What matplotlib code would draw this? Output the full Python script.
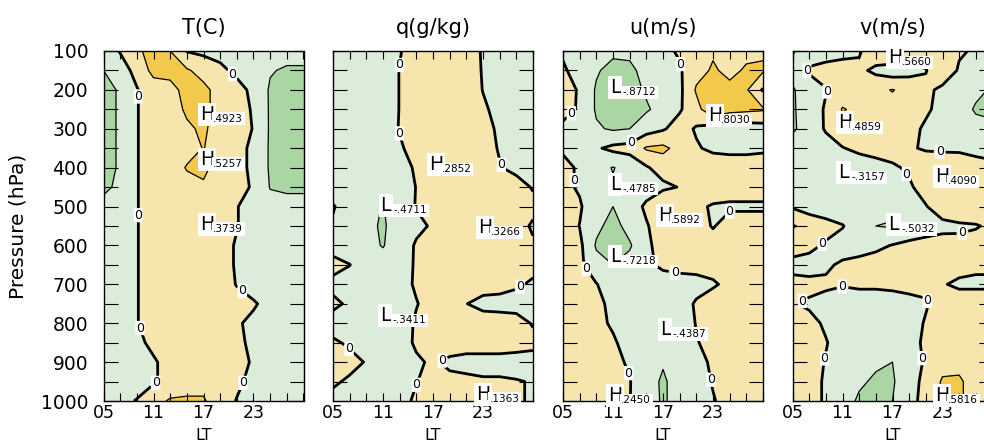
import numpy as np
import matplotlib.pyplot as plt

# сетка: местное время (LT) и давление (гПа)
lt = [5, 7, 9, 11, 13, 15, 17, 19, 21, 23, 25, 27, 29]
plev = [100, 150, 200, 250, 300, 350, 400, 450, 500, 550,
        600, 650, 700, 750, 800, 850, 900, 950, 1000]

t_vals = [
    [-0.2, 0.02, 0.4, 0.55, 0.45, -0.02, -0.1, -0.15, -0.1, -0.1, -0.2, -0.3, -0.3],
    [-0.45, -0.15, 0.1, 0.6, 0.55, 0.5, 0.3, 0.1, -0.1, -0.3, -0.42, -0.5, -0.5],
    [-0.6, -0.4, -0.02, 0.2, 0.35, 0.55, 0.55, 0.3, 0.15, -0.1, -0.5, -0.6, -0.6],
    [-0.6, -0.4, -0.02, 0.2, 0.3, 0.5, 0.55, 0.3, 0.2, -0.05, -0.5, -0.6, -0.6],
    [-0.6, -0.4, -0.02, 0.2, 0.3, 0.4, 0.5, 0.3, 0.2, -0.02, -0.5, -0.6, -0.6],
    [-0.6, -0.4, -0.02, 0.2, 0.3, 0.35, 0.46, 0.3, 0.15, -0.1, -0.5, -0.6, -0.6],
    [-0.6, -0.4, -0.02, 0.2, 0.3, 0.47, 0.53, 0.3, 0.15, -0.1, -0.5, -0.6, -0.6],
    [-0.55, -0.35, -0.02, 0.2, 0.3, 0.35, 0.4, 0.3, 0.15, -0.05, -0.47, -0.5, -0.5],
    [-0.3, -0.2, -0.02, 0.2, 0.3, 0.3, 0.35, 0.25, 0.02, -0.2, -0.3, -0.35, -0.35],
    [-0.3, -0.2, -0.02, 0.2, 0.3, 0.3, 0.37, 0.25, 0.02, -0.2, -0.3, -0.3, -0.3],
    [-0.3, -0.2, -0.02, 0.2, 0.3, 0.3, 0.3, 0.2, -0.05, -0.2, -0.3, -0.3, -0.3],
    [-0.3, -0.2, -0.02, 0.2, 0.3, 0.3, 0.3, 0.2, -0.05, -0.2, -0.3, -0.3, -0.3],
    [-0.3, -0.2, -0.02, 0.2, 0.3, 0.3, 0.3, 0.2, -0.02, -0.2, -0.3, -0.3, -0.3],
    [-0.3, -0.2, -0.02, 0.2, 0.3, 0.3, 0.3, 0.2, 0.15, 0.05, -0.15, -0.3, -0.3],
    [-0.3, -0.2, -0.02, 0.2, 0.3, 0.3, 0.3, 0.2, 0.05, -0.1, -0.2, -0.3, -0.3],
    [-0.3, -0.2, -0.1, 0.1, 0.25, 0.3, 0.3, 0.2, 0.1, -0.1, -0.2, -0.3, -0.3],
    [-0.3, -0.25, -0.15, -0.05, 0.15, 0.3, 0.3, 0.25, 0.15, -0.05, -0.2, -0.3, -0.3],
    [-0.3, -0.25, -0.15, -0.05, 0.15, 0.3, 0.3, 0.2, 0.08, -0.12, -0.2, -0.3, -0.3],
    [-0.3, -0.1, 0.02, 0.3, 0.5, 0.5, 0.5, 0.2, -0.02, -0.2, -0.3, -0.3, -0.3],
]

q_vals = [
    [-0.25, -0.25, -0.25, -0.2, -0.02, 0.15, 0.2, 0.2, 0.15, -0.03, -0.15, -0.2, -0.2],
    [-0.25, -0.25, -0.25, -0.2, 0.01, 0.15, 0.2, 0.2, 0.15, -0.02, -0.15, -0.2, -0.2],
    [-0.25, -0.25, -0.25, -0.2, 0.01, 0.15, 0.2, 0.25, 0.2, -0.01, -0.15, -0.2, -0.2],
    [-0.25, -0.25, -0.25, -0.2, 0.01, 0.2, 0.25, 0.25, 0.2, 0.05, -0.1, -0.2, -0.2],
    [-0.25, -0.25, -0.25, -0.2, 0.02, 0.2, 0.25, 0.25, 0.2, 0.1, -0.05, -0.2, -0.2],
    [-0.25, -0.25, -0.25, -0.2, -0.05, 0.15, 0.25, 0.28, 0.25, 0.15, -0.03, -0.15, -0.2],
    [-0.25, -0.25, -0.3, -0.3, -0.15, 0.05, 0.28, 0.28, 0.25, 0.2, 0.02, -0.1, -0.15],
    [-0.2, -0.25, -0.3, -0.35, -0.2, 0.01, 0.25, 0.28, 0.3, 0.3, 0.25, 0.15, -0.03],
    [0.03, -0.2, -0.3, -0.47, -0.2, 0.02, 0.2, 0.28, 0.3, 0.3, 0.3, 0.2, 0.1],
    [-0.05, -0.2, -0.35, -0.5, -0.25, -0.1, 0.05, 0.25, 0.3, 0.33, 0.25, 0.15, -0.05],
    [-0.15, -0.25, -0.35, -0.47, -0.25, 0.05, 0.2, 0.25, 0.3, 0.3, 0.25, 0.15, 0.05],
    [0.12, 0.01, -0.25, -0.3, -0.2, 0.05, 0.2, 0.25, 0.25, 0.25, 0.2, 0.15, 0.1],
    [-0.1, -0.2, -0.25, -0.3, -0.15, 0.05, 0.2, 0.25, 0.25, 0.2, 0.15, 0.05, -0.05],
    [0.08, -0.06, -0.25, -0.3, -0.2, -0.02, 0.15, 0.1, 0.01, -0.15, -0.15, -0.15, -0.15],
    [-0.15, -0.2, -0.3, -0.34, -0.2, 0.05, 0.2, 0.25, 0.25, 0.25, 0.2, 0.15, -0.03],
    [0.05, -0.05, -0.2, -0.25, -0.15, 0.05, 0.2, 0.2, 0.2, 0.2, 0.2, 0.15, 0.1],
    [0.2, 0.1, -0.02, -0.2, -0.15, -0.05, 0.05, -0.08, -0.15, -0.15, -0.15, -0.15, -0.15],
    [0.05, -0.05, -0.2, -0.2, -0.1, -0.01, 0.1, 0.1, 0.1, 0.05, 0.05, 0.02, -0.02],
    [-0.1, -0.15, -0.2, -0.2, -0.1, 0.05, 0.1, 0.1, 0.12, 0.14, 0.1, 0.05, -0.05],
]

u_vals = [
    [-0.05, -0.2, -0.3, -0.35, -0.35, -0.3, -0.1, 0.05, 0.2, 0.4, 0.3, 0.35, 0.4],
    [0.05, -0.15, -0.4, -0.6, -0.55, -0.3, -0.2, -0.05, 0.3, 0.5, 0.35, 0.5, 0.5],
    [0.2, -0.05, -0.5, -0.97, -0.6, -0.4, -0.3, -0.1, 0.5, 0.6, 0.55, 0.5, -0.05],
    [0.15, -0.05, -0.5, -0.7, -0.6, -0.5, -0.3, -0.05, 0.3, 0.8, 0.6, 0.55, 0.5],
    [-0.1, -0.2, -0.4, -0.5, -0.45, -0.2, -0.05, 0.2, -0.05, -0.2, -0.25, -0.25, -0.2],
    [-0.05, -0.2, -0.05, 0.1, 0.15, 0.5, 0.55, 0.3, 0.05, -0.1, -0.15, -0.15, -0.1],
    [0.1, -0.05, -0.3, -0.47, -0.3, -0.05, 0.2, 0.3, 0.35, 0.3, 0.3, 0.3, 0.3],
    [0.1, -0.05, -0.3, -0.4, -0.35, -0.25, -0.1, 0.02, 0.3, 0.3, 0.3, 0.3, 0.3],
    [0.2, 0.05, -0.3, -0.45, -0.3, 0.1, 0.5, 0.3, 0.1, -0.05, -0.1, -0.1, -0.1],
    [0.2, -0.01, -0.35, -0.6, -0.3, -0.05, 0.3, 0.3, 0.3, -0.05, 0.3, 0.3, 0.3],
    [0.3, 0.1, -0.5, -0.65, -0.5, -0.1, 0.2, 0.3, 0.3, 0.3, 0.3, 0.3, 0.3],
    [0.3, 0.1, -0.3, -0.45, -0.3, -0.1, 0.1, 0.15, 0.15, 0.15, 0.2, 0.3, 0.3],
    [0.3, 0.2, 0.02, -0.25, -0.3, -0.3, -0.25, -0.2, -0.15, -0.05, 0.1, 0.25, 0.3],
    [0.3, 0.25, 0.1, -0.1, -0.25, -0.3, -0.3, -0.2, 0.05, 0.2, 0.3, 0.3, 0.3],
    [0.25, 0.2, 0.1, -0.05, -0.2, -0.3, -0.35, -0.25, 0.02, 0.15, 0.25, 0.3, 0.3],
    [0.25, 0.2, 0.15, 0.05, -0.15, -0.3, -0.44, -0.3, -0.02, 0.1, 0.2, 0.25, 0.25],
    [0.2, 0.2, 0.15, 0.1, -0.05, -0.3, -0.42, -0.3, -0.1, 0.05, 0.15, 0.2, 0.2],
    [0.2, 0.2, 0.2, 0.15, 0.02, -0.3, -0.5, -0.3, -0.15, 0.02, 0.1, 0.2, 0.2],
    [0.15, 0.2, 0.22, 0.245, 0.01, -0.25, -0.5, -0.3, -0.2, -0.02, 0.1, 0.15, 0.15],
]

v_vals = [
    [-0.5, -0.2, -0.2, -0.15, -0.05, 0.3, 0.5, 0.3, 0.2, 0.2, 0.05, -0.05, -0.1],
    [-0.3, 0.05, 0.15, 0.2, 0.1, -0.1, -0.25, -0.15, -0.02, 0.3, -0.05, -0.15, -0.2],
    [-0.5, -0.2, -0.02, 0.2, 0.3, 0.35, 0.47, 0.3, 0.1, -0.1, -0.2, -0.35, -0.5],
    [-0.5, -0.25, 0.05, 0.48, 0.35, 0.3, 0.3, 0.25, 0.05, -0.1, -0.25, -0.5, -0.55],
    [-0.5, -0.3, 0.05, 0.3, 0.3, 0.3, 0.2, 0.1, -0.05, -0.15, -0.2, -0.3, -0.35],
    [-0.3, -0.25, -0.2, -0.02, 0.1, 0.15, 0.15, 0.05, -0.05, -0.1, -0.1, -0.15, -0.15],
    [-0.2, -0.2, -0.25, -0.32, -0.25, -0.15, -0.05, 0.05, 0.3, 0.4, 0.35, 0.2, 0.1],
    [-0.2, -0.2, -0.25, -0.25, -0.25, -0.2, -0.15, -0.05, 0.15, 0.3, 0.3, 0.2, 0.1],
    [-0.05, -0.2, -0.25, -0.25, -0.25, -0.3, -0.3, -0.2, -0.02, 0.2, 0.25, 0.2, 0.1],
    [0.5, 0.3, 0.15, 0.02, -0.2, -0.45, -0.5, -0.3, -0.2, -0.1, -0.05, -0.02, 0.05],
    [0.15, 0.1, -0.05, -0.15, -0.2, -0.1, 0.02, 0.1, 0.15, 0.15, 0.08, 0.1, 0.1],
    [-0.1, -0.15, -0.05, 0.05, 0.15, 0.2, 0.2, 0.2, 0.2, 0.15, 0.1, 0.05, 0.05],
    [0.1, 0.1, 0.05, 0.02, 0.05, 0.05, 0.05, 0.05, 0.05, 0.02, -0.05, -0.05, -0.05],
    [0.02, -0.05, -0.1, -0.15, -0.15, -0.15, -0.1, -0.05, -0.02, 0.1, 0.15, 0.15, 0.15],
    [0.15, 0.1, -0.05, -0.15, -0.2, -0.2, -0.2, -0.1, 0.02, 0.1, 0.15, 0.15, 0.15],
    [0.2, 0.15, 0.02, -0.15, -0.3, -0.35, -0.3, -0.1, 0.05, 0.15, 0.2, 0.2, 0.2],
    [0.2, 0.15, -0.02, -0.2, -0.35, -0.4, -0.45, -0.2, 0.05, 0.3, 0.35, 0.3, 0.2],
    [0.2, 0.15, -0.05, -0.25, -0.4, -0.5, -0.5, -0.15, 0.1, 0.5, 0.5, 0.3, 0.2],
    [0.25, 0.15, -0.05, -0.3, -0.5, -0.55, -0.45, -0.1, 0.1, 0.58, 0.5, 0.3, 0.2],
]

titles = ['T(C)', 'q(g/kg)', 'u(m/s)', 'v(m/s)']

# подписи экстремумов: (LT, p, буква, значение)
t_marks = [(16.6, 277, 'H', '.4923'), (16.6, 393, 'H', '.5257'), (16.6, 560, 'H', '.3739')]
q_marks = [(16.5, 406, 'H', '.2852'), (10.7, 512, 'L', '-.4711'), (22.4, 568, 'H', '.3266'),
           (10.6, 795, 'L', '-.3411'), (22.2, 997, 'H', '.1363')]
u_marks = [(10.6, 208, 'L', '-.8712'), (22.4, 280, 'H', '.8030'), (10.6, 457, 'L', '-.4785'),
           (16.4, 537, 'H', '.5892'), (10.6, 643, 'L', '-.7218'), (16.6, 830, 'L', '-.4387'),
           (10.4, 1000, 'H', '.2450')]
v_marks = [(16.5, 131, 'H', '.5660'), (10.5, 298, 'H', '.4859'), (10.5, 427, 'L', '-.3157'),
           (22.1, 437, 'H', '.4090'), (16.5, 560, 'L', '-.5032'), (22.1, 1000, 'H', '.5816')]

# места подписей нулевой изолинии
t_zero = [(9.25, 217), (20.2, 166), (9.0, 522), (21.8, 713), (10.1, 807), (11.5, 961), (21.9, 955)]
q_zero = [(13.0, 136), (13.1, 311), (25.3, 392), (6.8, 869), (14.6, 955), (17.8, 884), (27.9, 723)]
u_zero = [(19.6, 131), (6.0, 260), (12.8, 318), (6.6, 432), (25.0, 513), (7.6, 663),
          (18.3, 682), (12.8, 929), (22.8, 945)]
v_zero = [(6.5, 153), (11.3, 217), (22.8, 316), (18.8, 414), (8.8, 601), (25.6, 585),
          (11.0, 689), (6.2, 744), (21.8, 736), (8.7, 890), (20.4, 890)]

fill_levels = [-2, -0.85, -0.45, 0, 0.45, 2]
fill_colors = ['#5fbfae', '#a9d6a3', '#dcecda', '#f6e6ae', '#f2c94b']

plt.rcParams['font.family'] = ['DejaVu Sans']

fig = plt.figure(figsize=(9.84, 4.44), dpi=100)
lefts = [103.5, 333, 563, 792.5]

panels = [(t_vals, t_marks, t_zero), (q_vals, q_marks, q_zero),
          (u_vals, u_marks, u_zero), (v_vals, v_marks, v_zero)]

for i, (vals, marks, zeros) in enumerate(panels):
    ax = fig.add_axes([lefts[i] / 984, 43 / 444, 200 / 984, 350 / 444])
    z = np.array(vals)
    ax.contourf(lt, plev, z, levels=fill_levels, colors=fill_colors)
    ax.contour(lt, plev, z, levels=[-0.85, -0.45, 0.45], colors='k',
               linewidths=0.9, linestyles='solid')
    cs0 = ax.contour(lt, plev, z, levels=[0], colors='k', linewidths=2.0,
                     linestyles='solid')
    lbls = ax.clabel(cs0, fmt='%1.0f', fontsize=9, inline=True, inline_spacing=2, manual=zeros)
    for t in lbls:
        t.set_rotation(0)
        t.set_bbox(dict(boxstyle='round,pad=0.05', fc='white', ec='none'))

    for x, y, letter, num in marks:
        ax.text(x, y, letter, fontsize=13.5, ha='left', va='baseline', zorder=6,
                bbox=dict(boxstyle='square,pad=0.1', fc='white', ec='none'))
        ax.annotate(num, xy=(x, y), xytext=(9.5, -1.5), textcoords='offset points',
                    fontsize=7.5, ha='left', va='baseline', zorder=7,
                    bbox=dict(boxstyle='square,pad=0.15', fc='white', ec='none'))

    ax.set_xlim(5, 29)
    ax.set_ylim(1000, 100)
    ax.set_xticks([5, 11, 17, 23])
    ax.set_xticklabels(['05', '11', '17', '23'])
    ax.set_xticks(range(5, 30, 2), minor=True)
    ax.set_yticks(range(100, 1001, 100))
    ax.set_yticks(range(150, 1000, 100), minor=True)
    ax.tick_params(axis='both', which='both', direction='in', top=True, right=True,
                   width=0.8, labelsize=13.5)
    ax.tick_params(axis='y', which='both', length=10)
    ax.tick_params(axis='x', which='both', length=6, pad=2.5, labelsize=12.5)
    if i > 0:
        ax.set_yticklabels([])
    else:
        ax.tick_params(axis='y', pad=11)
    for s in ax.spines.values():
        s.set_linewidth(1.0)
    ax.set_title(titles[i], fontsize=15, pad=12)
    ax.text(0.5, -39 / 350, 'LT', transform=ax.transAxes, fontsize=11.5,
            ha='center', va='baseline')

fig.text(18 / 984, 1 - 226 / 444, 'Pressure (hPa)', rotation=90, fontsize=14.5,
         ha='center', va='center')

fig.savefig('out.png', dpi=100)
